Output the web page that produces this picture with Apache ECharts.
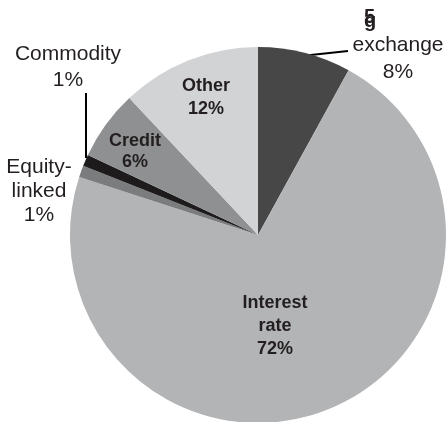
<!DOCTYPE html>
<html>
<head>
<meta charset="utf-8">
<script src="https://cdn.jsdelivr.net/npm/echarts@6/dist/echarts.min.js"></script>
<style>
  html, body { margin: 0; padding: 0; background: #fff; }
  #chart { width: 447px; height: 422px; }
</style>
</head>
<body>
<div id="chart"></div>
<script>
// Derivatives market share by category (clockwise from 12 o'clock)
const categories = ['Foreign exchange', 'Interest rate', 'Equity-linked', 'Commodity', 'Credit', 'Other'];
const shares = [8, 72, 1, 1, 6, 12];
// Text shown on each slice label (above the percentage)
const labelLines = ['exchange', 'Interest\nrate', 'Equity-\nlinked', 'Commodity', 'Credit', 'Other'];

const sliceColors = ['#474747', '#b3b4b6', '#7b7c7e', '#1e1b1c', '#8f9092', '#d2d3d5'];
const textColor = '#231f20';
const font = '"Liberation Sans", Arial, sans-serif';

// label anchor (centre) for each slice, and leader lines where drawn
const labelAnchors = [[398, 59], [275, 326], [39, 191], [68, 67], [135, 152], [206, 98]];
const leaderLines = {
  0: [[292, 57], [320, 54], [348, 51]],
  3: [[86, 158], [86, 126], [86, 93]]
};
const boldInside = [false, true, false, false, true, true];
const lineHeights = [27, 23, 24, 26, 21, 23];

const chart = echarts.init(document.getElementById('chart'), null, { renderer: 'canvas' });

const data = categories.map((name, i) => ({
  name,
  value: shares[i],
  itemStyle: { color: sliceColors[i] },
  label: {
    show: true,
    position: 'outside',
    fontFamily: font,
    fontSize: boldInside[i] ? 18 : 21,
    fontWeight: boldInside[i] ? 'bold' : 'normal',
    lineHeight: lineHeights[i],
    color: textColor,
    align: 'center'
  },
  labelLine: {
    show: leaderLines[i] !== undefined,
    lineStyle: { color: '#000', width: 2 }
  }
}));

chart.setOption({
  animation: false,
  backgroundColor: '#ffffff',
  series: [{
    type: 'pie',
    center: [258, 235],
    radius: 188,
    startAngle: 90,
    clockwise: true,
    avoidLabelOverlap: false,
    emphasis: { disabled: true },
    itemStyle: { borderWidth: 0 },
    label: {
      formatter: p => labelLines[p.dataIndex] + '\n' + p.value + '%'
    },
    labelLine: { length: 10, length2: 10, smooth: false },
    labelLayout: function (params) {
      const i = params.dataIndex;
      const a = labelAnchors[i];
      const out = { x: a[0], y: a[1], align: 'center', verticalAlign: 'middle' };
      if (leaderLines[i]) out.labelLinePoints = leaderLines[i];
      return out;
    },
    data
  }],
  graphic: [
    {
      type: 'text', left: 364, top: 7,
      style: { text: '5', font: 'bold 20px ' + font, fill: textColor }
    },
    {
      type: 'text', left: 364, top: 11,
      style: { text: 'g', font: 'bold 20px ' + font, fill: textColor }
    }
  ]
});
</script>
</body>
</html>
